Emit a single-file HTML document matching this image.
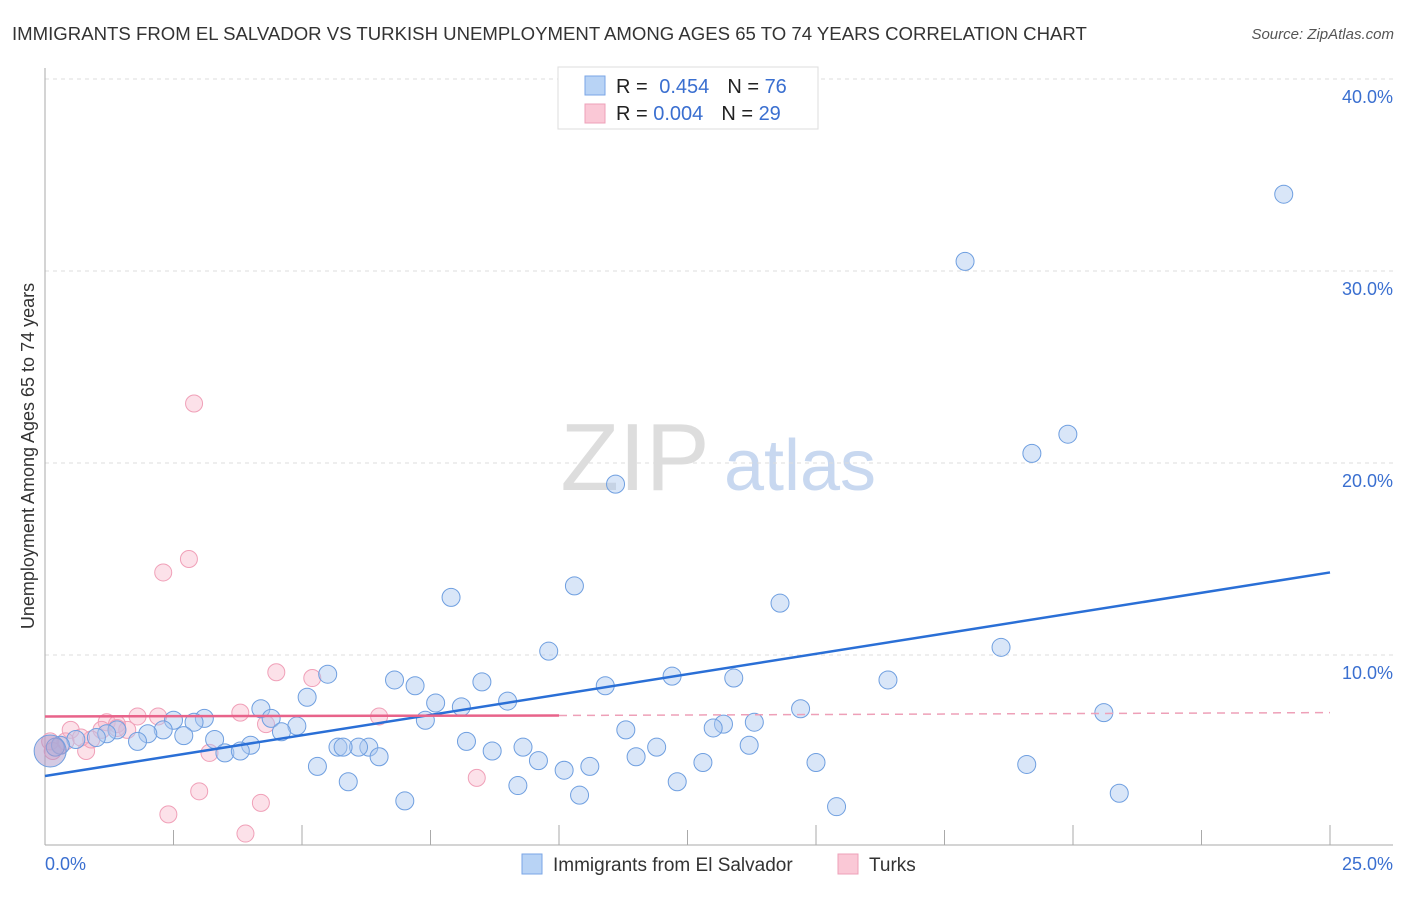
<!DOCTYPE html>
<html><head><meta charset="utf-8"><style>
body{margin:0;background:#fff;font-family:"Liberation Sans",sans-serif;}
svg text{font-family:"Liberation Sans",sans-serif;}
</style></head><body>
<svg id="chart" width="1406" height="892" xmlns="http://www.w3.org/2000/svg">
<text x="12" y="40" font-size="18.6" fill="#333">IMMIGRANTS FROM EL SALVADOR VS TURKISH UNEMPLOYMENT AMONG AGES 65 TO 74 YEARS CORRELATION CHART</text>
<text x="1394" y="39" font-size="15" fill="#555" font-style="italic" text-anchor="end">Source: ZipAtlas.com</text>
<g>
<text x="635" y="490" font-size="96" fill="#ddd" text-anchor="middle" font-family="Liberation Serif,serif">ZIP</text>
<text x="800" y="490" font-size="72" fill="#c8d8f0" text-anchor="middle">atlas</text>
</g>
<g id="grid"></g>
<g id="axes"></g>
<g id="marks"></g>
<text transform="translate(34,456) rotate(-90)" font-size="18" fill="#333" text-anchor="middle">Unemployment Among Ages 65 to 74 years</text>
<text x="45" y="870" font-size="18" fill="#3a6fd0">0.0%</text>
<text x="1393" y="870" font-size="18" fill="#3a6fd0" text-anchor="end">25.0%</text>
<g>
<rect x="558" y="67" width="260" height="62" fill="#fff" stroke="#ddd"/>
<rect x="585" y="76" width="20" height="19" fill="#b8d3f5" stroke="#7aa6e6"/>
<rect x="585" y="104" width="20" height="19" fill="#fac8d6" stroke="#eea0b8"/>
<text x="616" y="93" font-size="20" fill="#222">R = <tspan fill="#3a6fd0" dx="6">0.454</tspan><tspan dx="18" fill="#222">N = </tspan><tspan fill="#3a6fd0">76</tspan></text>
<text x="616" y="120" font-size="20" fill="#222">R = <tspan fill="#3a6fd0">0.004</tspan><tspan dx="18" fill="#222">N = </tspan><tspan fill="#3a6fd0">29</tspan></text>
</g>
<g>
<rect x="522" y="854" width="20" height="20" fill="#b8d3f5" stroke="#7aa6e6"/>
<text x="553" y="871" font-size="19" fill="#333">Immigrants from El Salvador</text>
<rect x="838" y="854" width="20" height="20" fill="#fac8d6" stroke="#eea0b8"/>
<text x="869" y="871" font-size="19" fill="#333">Turks</text>
</g>
</svg>
<script>
const yTicks=[10,20,30,40];
const yTickLabels=["10.0%","20.0%","30.0%","40.0%"];
const blueX=[24.1,17.9,19.9,19.2,11.1,10.3,7.9,14.3,9.8,18.6,5.5,6.8,7.2,8.5,10.9,12.2,13.4,16.4,5.1,9.0,4.2,7.6,8.1,14.7,20.6,2.5,3.1,2.9,4.4,7.4,13.8,13.2,13.0,11.3,4.9,4.6,2.3,2.0,2.7,1.4,1.2,1.0,0.6,0.3,0.2,1.8,3.3,4.0,6.3,3.5,3.8,5.7,6.1,5.8,8.2,8.7,9.3,11.9,13.7,11.5,6.5,9.6,5.3,10.1,10.6,12.8,15.0,19.1,5.9,12.3,9.2,10.4,7.0,15.4,20.9,0.1];
const blueY=[34.0,30.5,21.5,20.5,18.9,13.6,13.0,12.7,10.2,10.4,9.0,8.7,8.4,8.6,8.4,8.9,8.8,8.7,7.8,7.6,7.2,7.5,7.3,7.2,7.0,6.6,6.7,6.5,6.7,6.6,6.5,6.4,6.2,6.1,6.3,6.0,6.1,5.9,5.8,6.1,5.9,5.7,5.6,5.3,5.2,5.5,5.6,5.3,5.2,4.9,5.0,5.2,5.2,5.2,5.5,5.0,5.2,5.2,5.3,4.7,4.7,4.5,4.2,4.0,4.2,4.4,4.4,4.3,3.4,3.4,3.2,2.7,2.4,2.1,2.8,5.0];
const pinkX=[2.9,2.8,2.3,4.5,5.2,3.8,2.2,6.5,1.8,1.2,1.4,1.1,1.6,0.5,4.3,3.2,0.8,0.3,0.1,0.4,0.15,8.4,3.0,4.2,2.4,3.9,0.9,1.4,0.7];
const pinkY=[23.1,15.0,14.3,9.1,8.8,7.0,6.8,6.8,6.8,6.5,6.4,6.1,6.1,6.1,6.4,4.9,5.0,5.3,5.5,5.5,5.0,3.6,2.9,2.3,1.7,0.7,5.6,6.2,5.7];
const blueLine=[[0,3.7],[25,14.3]];
const pinkSolid=[[0,6.8],[10,6.85]];
const pinkDash=[[10,6.85],[25,7.0]];
const X=v=>45+v*51.4, Y=v=>847-v*19.2;
const NS="http://www.w3.org/2000/svg";
function mk(t,a,p){const e=document.createElementNS(NS,t);for(const k in a)e.setAttribute(k,a[k]);p.appendChild(e);return e;}
const grid=document.getElementById('grid'),axes=document.getElementById('axes'),marks=document.getElementById('marks');
yTicks.forEach((t,i)=>{
 const l=mk('line',{x1:45,x2:1393,y1:Y(t),y2:Y(t),stroke:'#ddd','stroke-dasharray':'4,4'},grid);
 
 
 const tx=mk('text',{x:1393,y:Y(t)+24,'font-size':18,fill:'#3a6fd0','text-anchor':'end'},grid);
 tx.textContent=yTickLabels[i];
 
 
});
const ax=mk('line',{x1:45,x2:45,y1:68,y2:845,stroke:'#aaa'},axes);


const bx=mk('line',{x1:45,x2:1393,y1:845,y2:845,stroke:'#aaa'},axes);


for(let i=1;i<=10;i++){const t=mk('line',{x1:X(i*2.5),x2:X(i*2.5),y1:(i%2==0)?825:830,y2:845,stroke:'#aaa'},axes);
 
 }
pinkX.forEach((v,i)=>{const c=mk('circle',{cx:X(v),cy:Y(pinkY[i]),r:8.5,fill:'rgba(248,180,200,0.4)',stroke:'#f0a0b8','stroke-width':1},marks);
 
 });
blueX.forEach((v,i)=>{const c=mk('circle',{cx:X(v),cy:Y(blueY[i]),r:(i==blueX.length-1)?16:9,fill:(i==blueX.length-1)?'rgba(170,150,200,0.5)':'rgba(170,200,240,0.45)',stroke:'#6f9fe0','stroke-width':1},marks);
 
 });
const bl=mk('line',{x1:X(blueLine[0][0]),y1:Y(blueLine[0][1]),x2:X(blueLine[1][0]),y2:Y(blueLine[1][1]),stroke:'#2a6fd6','stroke-width':2.5},marks);


const ps=mk('line',{x1:X(pinkSolid[0][0]),y1:Y(pinkSolid[0][1]),x2:X(pinkSolid[1][0]),y2:Y(pinkSolid[1][1]),stroke:'#e8638a','stroke-width':2.5},marks);


const pd=mk('line',{x1:X(pinkDash[0][0]),y1:Y(pinkDash[0][1]),x2:X(pinkDash[1][0]),y2:Y(pinkDash[1][1]),stroke:'#eea0b8','stroke-width':1.5,'stroke-dasharray':'8,6'},marks);


</script>
</body></html>
